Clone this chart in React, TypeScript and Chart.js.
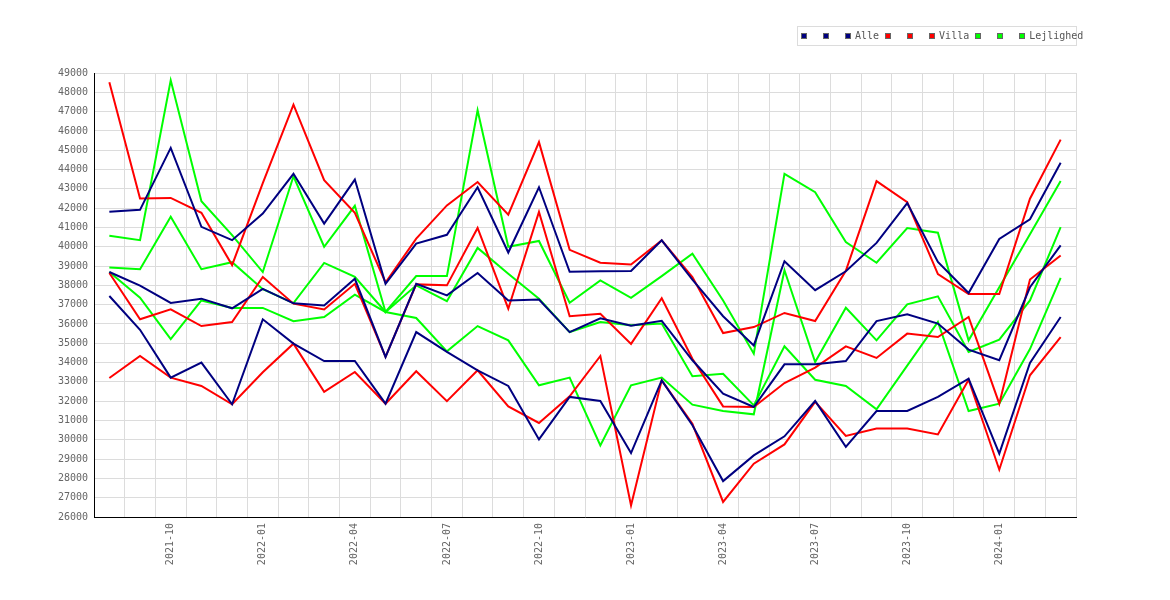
import React, { useEffect, useRef } from "react";
import { Chart, registerables } from "chart.js";

Chart.register(...registerables);

const months = [
  "2021-08", "2021-09", "2021-10", "2021-11", "2021-12",
  "2022-01", "2022-02", "2022-03", "2022-04", "2022-05", "2022-06",
  "2022-07", "2022-08", "2022-09", "2022-10", "2022-11", "2022-12",
  "2023-01", "2023-02", "2023-03", "2023-04", "2023-05", "2023-06",
  "2023-07", "2023-08", "2023-09", "2023-10", "2023-11", "2023-12",
  "2024-01", "2024-02", "2024-03",
];

const alleHigh = [41810, 41910, 45120, 41030, 40340, 41720, 43780, 41200, 43480, 38080, 40160, 40620, 43080, 39700, 43080, 38700, 38730, 38740, 40330, 38300, 36400, 34890, 39250, 37750, 38730, 40200, 42260, 39210, 37600, 40400, 41420, 44350];
const alleMid = [38690, 37990, 37090, 37310, 36810, 37820, 37070, 36960, 38340, 34290, 38080, 37480, 38640, 37220, 37270, 35580, 36290, 35910, 36160, 34120, 32390, 31700, 33910, 33910, 34080, 36150, 36500, 36020, 34670, 34120, 37900, 40070];
const alleLow = [37450, 35700, 33220, 34000, 31840, 36240, 34980, 34080, 34080, 31870, 35580, 34550, 33600, 32790, 30020, 32220, 32010, 29310, 33080, 30750, 27860, 29190, 30180, 32010, 29630, 31490, 31490, 32220, 33170, 29280, 33980, 36360];

const villaHigh = [48520, 42500, 42530, 41760, 39050, 43300, 47360, 43450, 41760, 38150, 40420, 42140, 43350, 41660, 45420, 39840, 39170, 39080, 40330, 38430, 35530, 35840, 36570, 36150, 38750, 43400, 42310, 38580, 37550, 37550, 42490, 45550];
const villaMid = [38640, 36240, 36760, 35890, 36100, 38430, 37050, 36750, 38080, 34300, 38050, 38000, 40970, 36790, 41800, 36400, 36530, 34970, 37330, 34200, 31730, 31700, 32940, 33740, 34840, 34240, 35500, 35320, 36360, 31870, 38300, 39550];
const villaLow = [33200, 34340, 33220, 32790, 31840, 33500, 34980, 32480, 33510, 31870, 33550, 32000, 33600, 31730, 30870, 32250, 34340, 26600, 33080, 30830, 26780, 28760, 29760, 31960, 30200, 30580, 30580, 30280, 33110, 28450, 33340, 35320];

const lejHigh = [40570, 40340, 48620, 42360, 40600, 38690, 43650, 40000, 42120, 36620, 38480, 38480, 47070, 40000, 40300, 37100, 38260, 37350, 38480, 39640, 37220, 34460, 43780, 42830, 40240, 39170, 40970, 40730, 35150, 37900, 40650, 43400];
const lejMid = [38930, 38840, 41550, 38840, 39200, 37800, 37080, 39160, 38440, 36620, 38000, 37180, 39940, 38600, 37310, 35580, 36100, 35930, 36020, 33290, 33420, 31780, 34840, 33110, 32790, 31580, 33840, 36100, 31490, 31870, 34700, 38390];
const lejLow = [38690, 37360, 35210, 37220, 36830, 36830, 36140, 36360, 37520, 36620, 36310, 34580, 35890, 35150, 32820, 33220, 29710, 32820, 33220, 31820, 31490, 31320, 38780, 34030, 36840, 35150, 37020, 37430, 34550, 35190, 37220, 41020];

const seriesLabels = ["", "", "Alle", "", "", "Villa", "", "", "Lejlighed"];
const seriesValues = [alleHigh, alleMid, alleLow, villaHigh, villaMid, villaLow, lejHigh, lejMid, lejLow];
const seriesColors = ["#000080", "#000080", "#000080", "#ff0000", "#ff0000", "#ff0000", "#00ff00", "#00ff00", "#00ff00"];

const yMin = 26000;
const yMax = 49000;
const yStep = 1000;
const quarterMonths = ["01", "04", "07", "10"];

const FONT = "'DejaVu Sans Mono', monospace";

export default function App() {
  const ref = useRef<HTMLCanvasElement>(null);

  useEffect(() => {
    const canvas = ref.current;
    if (!canvas) return;
    const tickFont = { family: FONT, size: 10 };
    const chart = new Chart(canvas, {
      type: "line",
      data: {
        labels: months,
        datasets: seriesValues.map((vals, i) => ({
          label: seriesLabels[i],
          data: vals,
          borderColor: seriesColors[i],
          backgroundColor: seriesColors[i],
          borderWidth: 2,
          pointRadius: 0,
          pointHoverRadius: 0,
          tension: 0,
          fill: false,
        })),
      },
      options: {
        responsive: false,
        animation: false,
        events: [],
        layout: { padding: { left: 0, right: 94, top: 73, bottom: 0 } },
        plugins: {
          legend: { display: false },
          tooltip: { enabled: false },
        },
        scales: {
          x: {
            type: "category",
            offset: true,
            grid: { offset: true, color: "#dcdcdc", lineWidth: 1, drawTicks: false },
            border: { color: "#000000", width: 1 },
            ticks: {
              autoSkip: false,
              maxRotation: 90,
              minRotation: 90,
              padding: 6,
              color: "#666666",
              font: tickFont,
              callback: (_v: any, i: number) => {
                const m = months[i];
                return quarterMonths.includes(m.slice(5)) ? m : "";
              },
            },
            afterFit: (s: any) => {
              s.height = 83;
            },
          },
          y: {
            min: yMin,
            max: yMax,
            grid: { color: "#dcdcdc", lineWidth: 1, drawTicks: false },
            border: { color: "#000000", width: 1 },
            ticks: {
              stepSize: yStep,
              padding: 6,
              color: "#666666",
              font: tickFont,
              callback: (v: any) => String(v),
            },
            afterFit: (s: any) => {
              s.width = 94;
            },
          },
        },
      },
    });
    return () => chart.destroy();
  }, []);

  return (
    <div style={{ position: "absolute", left: 0, top: 0, width: 1170, height: 600, background: "#ffffff" }}>
      <canvas ref={ref} width={1170} height={600} style={{ display: "block" }} />
      <div
        style={{
          position: "absolute",
          left: 797,
          top: 26,
          width: 280,
          height: 20,
          boxSizing: "border-box",
          border: "1px solid #dcdcdc",
          display: "flex",
          alignItems: "center",
          paddingLeft: 3,
          whiteSpace: "nowrap",
          fontFamily: FONT,
          fontSize: 10,
          color: "#555555",
          overflow: "visible",
        }}
      >
        {seriesLabels.map((lab, i) => (
          <React.Fragment key={i}>
            <span
              style={{
                display: "inline-block",
                width: 6,
                height: 6,
                boxSizing: "border-box",
                border: "1px solid #666666",
                background: seriesColors[i],
                marginRight: lab ? 4 : 16,
                flex: "none",
              }}
            />
            {lab ? <span style={{ marginRight: 6, lineHeight: "10px" }}>{lab}</span> : null}
          </React.Fragment>
        ))}
      </div>
    </div>
  );
}
